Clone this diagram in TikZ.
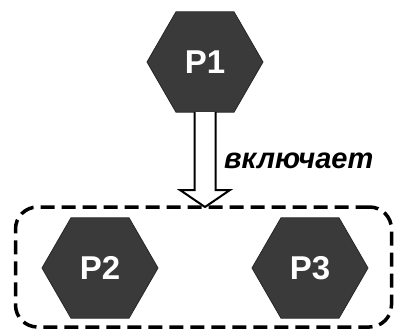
\documentclass[tikz,border=0pt]{standalone}
\usepackage{fontspec}
\setmainfont{Liberation Sans}
\usetikzlibrary{shapes.geometric,calc}
\definecolor{hexfill}{HTML}{3A3A3A}
\tikzset{
  hexnode/.style={regular polygon, regular polygon sides=6, minimum size=116pt,
    inner sep=0pt, outer sep=0pt, fill=hexfill, draw=black!85, line width=0.8pt,
    text=white, font=\fontsize{33}{33}\selectfont\bfseries},
  groupbox/.style={draw=black, dashed, line width=3.5pt, dash pattern=on 14pt off 7pt,
    rounded corners=22pt, inner sep=0pt, outer sep=0pt},
  hollowarrow/.style={draw=black, line width=2pt, fill=white, line join=miter},
  lbl/.style={font=\fontsize{29}{29}\selectfont\bfseries\itshape, inner sep=0pt, anchor=west}
}
\begin{document}
\begin{tikzpicture}[x=1pt,y=-1pt]
\useasboundingbox (0,0) rectangle (394,330);
\node[groupbox, minimum width=376pt, minimum height=120pt] (box) at (203.5,267) {};
\node[hexnode] (P1) at (205,62) {P1};
\node[hexnode] (P2) at (100,268) {P2};
\node[hexnode] (P3) at (310,268) {P3};
\coordinate (tip) at (box.north -| P1.south);
\draw[hollowarrow] ($(P1.south)+(-10.5,0)$) -- ($(tip)+(-10.5,-17)$) -- ($(tip)+(-25,-17)$)
  -- ($(tip)+(0,0)$) -- ($(tip)+(25,-17)$) -- ($(tip)+(10.5,-17)$) -- ($(P1.south)+(10.5,0)$);
\node[lbl] (lab) at (224,161) {включает};
\end{tikzpicture}
\end{document}
